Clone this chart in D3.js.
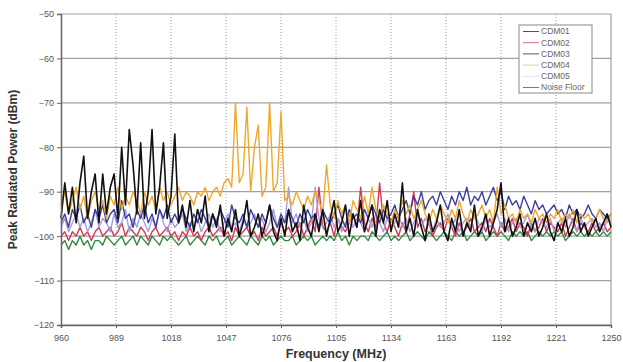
<!DOCTYPE html>
<meta charset="utf-8">
<script src="https://d3js.org/d3.v7.min.js"></script>
<style>
  body { margin: 0; background: #fff; }
  svg { font-family: Arial, "Liberation Sans", sans-serif; }
</style>
<div id="my_dataviz"></div>
<script>
    // frequency grid of the sweep, 2 MHz per point
    var freqStart = 960, freqStep = 2;

    var xTicks = [960, 989, 1018, 1047, 1076, 1105, 1134, 1163, 1192, 1221, 1250];
    var yTicks = [-120, -110, -100, -90, -80, -70, -60, -50];

    var seriesNames = ["CDM01", "CDM02", "CDM03", "CDM04", "CDM05", "Noise Floor"];

    // one row = 20 MHz
    var cdm01 = [
        -96, -88, -95, -89, -97, -88, -82, -96, -90, -86,
        -97, -86, -95, -89, -86, -96, -80, -93, -76, -84,
        -95, -79, -96, -90, -76, -95, -89, -79, -96, -91,
        -77, -97, -93, -98, -92, -99, -94, -97, -91, -99,
        -95, -98, -93, -100, -96, -99, -94, -100, -97, -92,
        -100, -98, -95, -100, -97, -93, -99, -101, -96, -100,
        -94, -99, -97, -101, -93, -98, -100, -95, -99, -94,
        -100, -96, -92, -99, -97, -93, -100, -95, -98, -92,
        -99, -96, -93, -100, -94, -97, -92, -99, -95, -98,
        -88, -99, -96, -100, -94, -98, -101, -95, -99, -97,
        -93, -99, -101, -96, -99, -94, -100, -97, -99, -93,
        -100, -98, -95, -100, -97, -94, -88, -99, -96, -100,
        -98, -95, -100, -97, -99, -96, -100, -98, -95, -99,
        -101, -97, -99, -96, -100, -98, -94, -99, -97, -100,
        -98, -96, -99, -97, -95, -98
    ];
    var cdm02 = [
        -100, -99, -101, -99, -100, -98, -100, -99, -101, -99,
        -98, -100, -99, -98, -100, -99, -97, -100, -98, -99,
        -100, -98, -99, -101, -99, -98, -100, -99, -98, -100,
        -99, -101, -99, -100, -98, -100, -99, -101, -99, -98,
        -100, -99, -98, -100, -99, -101, -98, -100, -99, -98,
        -100, -99, -101, -98, -100, -99, -98, -100, -97, -99,
        -98, -100, -99, -97, -100, -98, -96, -99, -89, -98,
        -99, -97, -100, -96, -98, -99, -97, -95, -98, -89,
        -97, -99, -96, -98, -88, -97, -99, -96, -98, -100,
        -97, -99, -95, -90, -98, -96, -99, -97, -100, -98,
        -97, -99, -96, -98, -100, -97, -99, -98, -96, -99,
        -98, -97, -99, -96, -98, -100, -97, -99, -98, -96,
        -99, -97, -98, -100, -97, -99, -98, -96, -99, -97,
        -98, -99, -97, -100, -98, -96, -99, -97, -98, -99,
        -97, -99, -98, -97, -99, -98
    ];
    var cdm03 = [
        -97, -95, -98, -94, -96, -93, -97, -95, -98, -94,
        -96, -93, -97, -95, -94, -97, -92, -96, -95, -98,
        -94, -96, -93, -97, -95, -98, -94, -96, -93, -97,
        -95, -97, -94, -96, -98, -95, -97, -94, -96, -98,
        -95, -97, -94, -96, -98, -93, -96, -97, -95, -98,
        -94, -96, -98, -95, -97, -93, -96, -98, -95, -97,
        -94, -96, -98, -95, -97, -94, -96, -95, -98, -94,
        -96, -97, -95, -93, -96, -98, -94, -96, -95, -97,
        -94, -96, -93, -95, -97, -94, -96, -95, -93, -96,
        -94, -92, -95, -91, -93, -90, -94, -92, -91, -93,
        -90, -92, -94, -91, -93, -90, -92, -89, -93, -91,
        -92, -90, -93, -91, -89, -92, -90, -94, -91, -93,
        -92, -94, -91, -93, -95, -92, -94, -93, -95, -94,
        -93, -95, -94, -96, -93, -95, -94, -96, -95, -93,
        -95, -96, -94, -95, -96, -95
    ];
    var cdm04 = [
        -93, -90, -95, -92, -89, -94, -91, -96, -92, -90,
        -94, -92, -96, -91, -93, -89, -94, -91, -93, -90,
        -92, -95, -90, -93, -91, -94, -89, -92, -90, -93,
        -91, -89, -92, -90, -91, -93, -90, -91, -89, -92,
        -90, -89, -91, -88, -87, -89, -70, -88, -86, -71,
        -90, -80, -75, -91, -89, -70, -90, -88, -72, -92,
        -91, -93, -90, -92, -94, -91, -93, -90, -92, -95,
        -84, -93, -96, -92, -95, -93, -97, -92, -94, -96,
        -91, -95, -89, -94, -96, -93, -95, -97, -94, -96,
        -92, -95, -93, -96, -94, -92, -95, -97, -94, -96,
        -93, -95, -97, -94, -96, -92, -95, -97, -94, -96,
        -95, -93, -96, -94, -97, -89, -95, -93, -96, -95,
        -97, -94, -96, -95, -97, -94, -96, -95, -97, -95,
        -96, -94, -97, -95, -96, -94, -97, -95, -96, -95,
        -97, -96, -94, -96, -97, -95
    ];
    var cdm05 = [
        -98, -96, -99, -97, -95, -98, -96, -99, -97, -94,
        -98, -96, -97, -99, -95, -98, -97, -94, -99, -96,
        -98, -95, -97, -99, -96, -98, -94, -97, -99, -96,
        -98, -97, -95, -99, -97, -98, -96, -99, -97, -95,
        -98, -96, -99, -97, -95, -98, -97, -99, -96, -98,
        -97, -95, -98, -96, -99, -97, -94, -98, -96, -97,
        -89, -97, -95, -98, -96, -99, -97, -89, -96, -98,
        -97, -95, -98, -96, -99, -97, -95, -98, -96, -97,
        -99, -96, -98, -95, -97, -99, -96, -98, -97, -95,
        -98, -96, -99, -97, -95, -98, -96, -97, -99, -96,
        -98, -97, -95, -98, -96, -99, -97, -96, -98, -95,
        -97, -99, -96, -98, -97, -95, -98, -96, -99, -97,
        -96, -98, -97, -95, -98, -99, -96, -97, -98, -96,
        -99, -97, -96, -98, -95, -97, -99, -96, -98, -97,
        -96, -98, -97, -99, -96, -97
    ];
    var noiseFloor = [
        -102, -101, -103, -101, -102, -100, -102, -101, -103, -101,
        -101, -102, -100, -101, -102, -101, -100, -102, -101, -100,
        -102, -100, -101, -102, -100, -101, -102, -100, -101, -100,
        -101, -102, -101, -100, -102, -101, -100, -101, -102, -100,
        -101, -100, -102, -101, -100, -102, -101, -100, -101, -102,
        -100, -101, -102, -100, -101, -100, -102, -101, -100, -101,
        -101, -100, -102, -101, -100, -101, -100, -102, -101, -100,
        -101, -100, -101, -99, -101, -100, -102, -100, -101, -100,
        -100, -101, -99, -100, -101, -100, -99, -101, -100, -101,
        -100, -99, -101, -100, -99, -100, -101, -99, -100, -101,
        -100, -99, -100, -101, -99, -100, -99, -101, -100, -99,
        -100, -99, -101, -100, -99, -100, -99, -100, -101, -99,
        -100, -99, -100, -99, -101, -100, -99, -100, -99, -100,
        -99, -100, -99, -101, -100, -99, -100, -99, -100, -99,
        -100, -99, -100, -99, -100, -99
    ];

    var seriesValues = [cdm01, cdm02, cdm03, cdm04, cdm05, noiseFloor];
    var seriesColors = ["#111111", "#d23a55", "#3b3f9e", "#f0a82c", "#a79ce0", "#2e8a3c"];
    var legendColors = ["#555555", "#d86a7c", "#6a4a7a", "#d8d890", "#e4e0f0", "#6e7a90"];
    // draw order: floor first, spiky ones last
    var drawOrder = [5, 1, 4, 2, 3, 0];

    var margin = { top: 14, right: 12, bottom: 37, left: 61 },
        width = 623 - margin.left - margin.right,
        height = 362 - margin.top - margin.bottom;

    var svg = d3.select("#my_dataviz")
        .append("svg")
        .attr("width", 623)
        .attr("height", 362)
        .append("g")
        .attr("transform", "translate(" + margin.left + "," + margin.top + ")");

    var x = d3.scaleLinear().domain([960, 1250]).range([0, width]);
    var y = d3.scaleLinear().domain([-120, -50]).range([height, 0]);

    // horizontal grid (solid)
    svg.append("g")
        .selectAll("line")
        .data(yTicks)
        .enter()
        .append("line")
        .attr("x1", 0)
        .attr("x2", width)
        .attr("y1", function (d) { return y(d); })
        .attr("y2", function (d) { return y(d); })
        .attr("stroke", "#a0a0a0")
        .attr("stroke-width", 1.2);

    // vertical grid (dotted)
    svg.append("g")
        .selectAll("line")
        .data(xTicks.slice(1, -1))
        .enter()
        .append("line")
        .attr("x1", function (d) { return x(d); })
        .attr("x2", function (d) { return x(d); })
        .attr("y1", 0)
        .attr("y2", height)
        .attr("stroke", "#9a9a9a")
        .attr("stroke-width", 1)
        .attr("stroke-dasharray", "1,2");

    // right border
    svg.append("line")
        .attr("x1", width).attr("x2", width)
        .attr("y1", 0).attr("y2", height)
        .attr("stroke", "#a0a0a0")
        .attr("stroke-width", 1.2);

    // series lines
    var line = d3.line()
        .x(function (d, i) { return x(freqStart + i * freqStep); })
        .y(function (d) { return y(d); });

    drawOrder.forEach(function (k) {
        svg.append("path")
            .datum(seriesValues[k])
            .attr("fill", "none")
            .attr("stroke", seriesColors[k])
            .attr("stroke-width", k === 0 ? 1.6 : 1.4)
            .attr("stroke-linejoin", "round")
            .attr("d", line);
    });

    // axes
    var xAxis = svg.append("g")
        .attr("transform", "translate(0," + height + ")")
        .call(d3.axisBottom(x).tickValues(xTicks).tickSize(3).tickFormat(d3.format("d")));
    var yAxis = svg.append("g")
        .call(d3.axisLeft(y).tickValues(yTicks).tickSize(4).tickFormat(d3.format("d")));

    [xAxis, yAxis].forEach(function (a) {
        a.select(".domain").attr("stroke", "#666").attr("stroke-width", 1.5);
        a.selectAll(".tick line").attr("stroke", "#666");
        a.selectAll("text").attr("fill", "#555").style("font-size", "9px");
    });
    xAxis.selectAll("text").attr("dy", "1.1em");
    yAxis.selectAll("text").attr("x", -7);

    // axis titles
    svg.append("text")
        .attr("x", width / 2)
        .attr("y", height + 33)
        .attr("text-anchor", "middle")
        .style("font-size", "12.5px")
        .style("font-weight", "bold")
        .attr("fill", "#333")
        .text("Frequency (MHz)");

    svg.append("text")
        .attr("transform", "translate(" + (-44) + "," + (height / 2) + ")rotate(-90)")
        .attr("text-anchor", "middle")
        .style("font-size", "12px")
        .style("font-weight", "bold")
        .attr("fill", "#333")
        .text("Peak Radiated Power (dBm)");

    // legend
    var legend = svg.append("g")
        .attr("transform", "translate(" + (519 - margin.left) + "," + (25 - margin.top) + ")");
    legend.append("rect")
        .attr("width", 73)
        .attr("height", 68)
        .attr("fill", "#fff")
        .attr("stroke", "#888")
        .attr("stroke-width", 1);

    var items = legend.selectAll("g.item")
        .data(seriesNames)
        .enter()
        .append("g")
        .attr("class", "item")
        .attr("transform", function (d, i) { return "translate(0," + (6.5 + i * 11.2) + ")"; });
    items.append("line")
        .attr("x1", 4).attr("x2", 20)
        .attr("stroke", function (d, i) { return legendColors[i]; })
        .attr("stroke-width", 1);
    items.append("text")
        .attr("x", 22)
        .attr("dy", "0.35em")
        .style("font-size", "8.5px")
        .attr("fill", "#666")
        .text(function (d) { return d; });
</script>
